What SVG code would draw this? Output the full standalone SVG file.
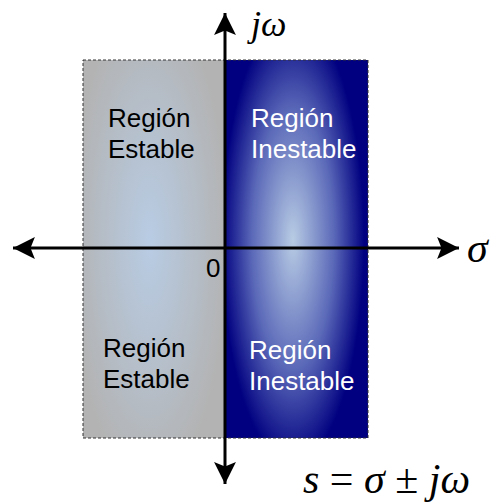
<svg xmlns="http://www.w3.org/2000/svg" width="491" height="504" viewBox="0 0 491 504">
<defs>
<radialGradient id="gL" cx="0.47" cy="0.48" r="0.5" gradientTransform="translate(0.47 0.48) scale(1.1 1.3) translate(-0.47 -0.48)">
<stop offset="0" stop-color="#b8cce4"/>
<stop offset="1" stop-color="#b3b3b3"/>
</radialGradient>
<radialGradient id="gR" cx="0.475" cy="0.476" r="0.5" gradientTransform="translate(0.475 0.476) scale(1.05 1.25) translate(-0.475 -0.476)">
<stop offset="0" stop-color="#b8cce4"/>
<stop offset="0.55" stop-color="#5a68b8"/>
<stop offset="0.95" stop-color="#000080"/>
<stop offset="1" stop-color="#000080"/>
</radialGradient>
<marker id="ah" viewBox="0 0 10 10" refX="10" refY="5" markerWidth="7.3" markerHeight="7.3" markerUnits="strokeWidth" orient="auto-start-reverse">
<path d="M0,0 L10,5 L0,10 L2,5 Z" fill="#000"/>
</marker>
<style>
.lbl{font-family:"Liberation Sans",Arial,sans-serif;font-size:26px}
.math{font-family:"Liberation Serif","Times New Roman",serif;font-style:italic;font-size:42px;fill:#000}
.small{font-size:36px}
.ax{stroke:#000;stroke-width:3;fill:none}
</style>
</defs>
<g id="stable-region">
<rect x="83" y="60" width="142" height="378" fill="url(#gL)"/>
<text class="lbl" x="108" y="127" fill="#000">Región</text>
<text class="lbl" x="108" y="158" fill="#000">Estable</text>
<text class="lbl" x="103" y="357" fill="#000">Región</text>
<text class="lbl" x="103" y="388" fill="#000">Estable</text>
</g>
<g id="unstable-region">
<rect x="225" y="60" width="143" height="378" fill="url(#gR)"/>
<text class="lbl" x="251" y="127" fill="#fff">Región</text>
<text class="lbl" x="251" y="158" fill="#fff">Inestable</text>
<text class="lbl" x="249" y="359" fill="#fff">Región</text>
<text class="lbl" x="249" y="390" fill="#fff">Inestable</text>
</g>
<rect id="border" x="83" y="60" width="285" height="378" fill="none" stroke="#333" stroke-width="1" stroke-dasharray="3,2"/>
<g id="connectors">
<line class="ax" x1="13" y1="248" x2="459" y2="248" marker-start="url(#ah)" marker-end="url(#ah)"/>
<line class="ax" x1="225" y1="13" x2="225" y2="484" marker-start="url(#ah)" marker-end="url(#ah)"/>
</g>
<g id="labels">
<text class="lbl" x="206" y="277" fill="#000">0</text>
<text class="math small" x="251" y="36">jω</text>
<text class="math" x="467" y="262">σ</text>
<text class="math" x="303" y="493"><tspan>s</tspan><tspan font-style="normal"> = </tspan><tspan>σ</tspan><tspan font-style="normal"> ± </tspan><tspan>jω</tspan></text>
</g>
</svg>
